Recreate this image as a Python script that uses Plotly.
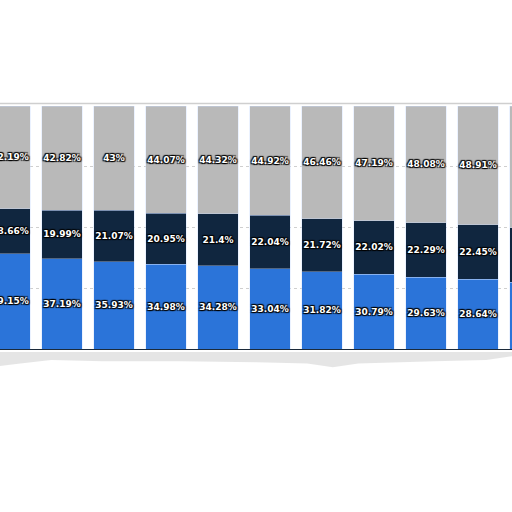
import plotly.graph_objects as go

categories = list(range(11))
blue_vals = [39.15, 37.19, 35.93, 34.98, 34.28, 33.04, 31.82, 30.79, 29.63, 28.64, 27.4]
navy_vals = [18.66, 19.99, 21.07, 20.95, 21.4, 22.04, 21.72, 22.02, 22.29, 22.45, 22.6]
gray_vals = [42.19, 42.82, 43.0, 44.07, 44.32, 44.92, 46.46, 47.19, 48.08, 48.91, 50.0]

def fmt(v):
    s = ("%.2f" % v).rstrip("0").rstrip(".")
    return s + "%"

series = [
    (blue_vals, "#2b74d9"),
    (navy_vals, "#10263f"),
    (gray_vals, "#b9b9b9"),
]

fig = go.Figure()
for vals, col in series:
    fig.add_trace(go.Bar(
        x=categories, y=vals, marker=dict(color=col, line=dict(color="rgba(200,220,255,0.6)", width=0.6)),
        text=[fmt(v) for v in vals], textposition="inside", insidetextanchor="middle",
        textangle=0, constraintext="none", cliponaxis=True,
        textfont=dict(family="DejaVu Sans", size=9, color="white", weight="bold",
                      shadow="1px 1px 1px #000, -1px -1px 1px #000, 1px -1px 1px #000, -1px 1px 1px #000"),
        hoverinfo="skip", showlegend=False,
    ))

fig.update_layout(
    barmode="stack", bargap=0.23,
    width=512, height=512,
    margin=dict(l=0, r=0, t=106, b=163, pad=0),
    paper_bgcolor="white", plot_bgcolor="white",
    xaxis=dict(range=[-10/52, -10/52 + 512/52], showticklabels=False, showgrid=False,
               zeroline=False, showline=True, linecolor="#1b2a3a", linewidth=1.2, fixedrange=True),
    yaxis=dict(range=[0, 100], showticklabels=False, tickvals=[25, 50, 75], showgrid=True,
               gridcolor="#cfcfcf", griddash="dot", gridwidth=1, zeroline=False, fixedrange=True),
    shapes=[
        dict(type="line", xref="paper", yref="paper", x0=0, x1=1, y0=1.01, y1=1.01,
             line=dict(color="#cfcfcf", width=1.5), layer="below"),
        dict(type="path", xref="paper", yref="paper", layer="below",
             path=("M 0,-0.012 L 1,-0.012 L 1,-0.03 L 0.95,-0.045 L 0.85,-0.05 L 0.7,-0.06 "
                   "L 0.65,-0.075 L 0.6,-0.06 L 0.5,-0.055 L 0.35,-0.05 L 0.2,-0.05 L 0.1,-0.045 "
                   "L 0.04,-0.06 L 0,-0.07 Z"),
             fillcolor="rgba(0,0,0,0.10)", line=dict(width=0)),
    ],
)

fig.write_html("out.html", config={"displayModeBar": False, "staticPlot": True},
               post_script="document.body.style.margin='0';document.body.style.overflow='hidden';")
